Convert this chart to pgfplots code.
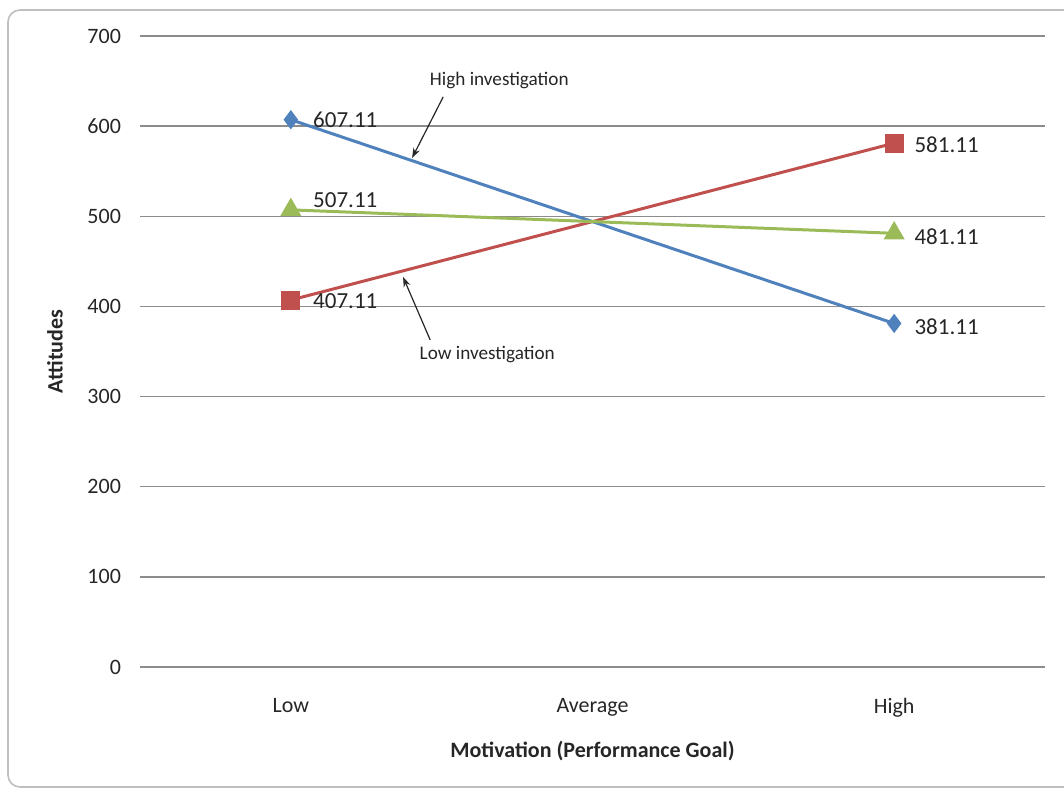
\documentclass[border=0pt]{standalone}
\usepackage{pgfplots}
\pgfplotsset{compat=1.18}
\usepackage{fontspec}
\setmainfont{Carlito}
\usetikzlibrary{arrows.meta}
\definecolor{xblue}{HTML}{4F81BD}
\definecolor{xred}{HTML}{C0504D}
\definecolor{xgreen}{HTML}{9BBB59}
\definecolor{xgrid}{HTML}{8C8C8C}
\definecolor{xtext}{HTML}{262626}
\begin{document}
\begin{tikzpicture}
\useasboundingbox (0,0) rectangle (532pt,396pt);
\draw[color=black!25, line width=0.8pt, rounded corners=6pt] (4pt,2.5pt) rectangle (545pt,391pt);
\begin{axis}[
  at={(70pt,62.5pt)}, anchor=south west,
  scale only axis, width=452.5pt, height=315.5pt,
  xmin=-0.5, xmax=2.5, ymin=0, ymax=700,
  axis line style={draw=none},
  xtick={0,1,2}, xticklabels={Low,Average,High},
  ytick={0,100,...,700},
  major tick length=0pt,
  ymajorgrids, grid style={xgrid, line width=0.7pt},
  tick label style={font=\fontsize{11}{13}\selectfont, text=xtext},
  xticklabel style={yshift=-12pt},
  yticklabel style={xshift=-6pt},
  /pgf/number format/assume math mode=true,
  xlabel={\textbf{Motivation (Performance Goal)}},
  ylabel={\textbf{Attitudes}},
  label style={font=\fontsize{11}{13}\selectfont, text=xtext},
  xlabel style={at={(axis description cs:0.5,-0.133)}, anchor=center},
  ylabel style={at={(axis description cs:-0.094,0.5)}, anchor=center, rotate=0},
  clip=false,
]
\addplot[xblue, line width=1.5pt, mark=diamond*, mark size=3.6pt, mark options={solid, fill=xblue}] coordinates {(0,607.11) (2,381.11)};
\addplot[xred, line width=1.5pt, mark=square*, mark size=4pt, mark options={solid, fill=xred}] coordinates {(0,407.11) (2,581.11)};
\addplot[xgreen, line width=1.5pt, mark=triangle*, mark size=4.6pt, mark options={solid, fill=xgreen}] coordinates {(0,507.11) (2,481.11)};
\begin{scope}[every node/.style={font=\fontsize{11.5}{13}\selectfont, text=xtext, anchor=west, inner sep=0pt}]
\node at (axis cs:0,607.11) [xshift=11pt] {607.11};
\node at (axis cs:0,507.11) [xshift=11pt, yshift=5pt] {507.11};
\node at (axis cs:0,407.11) [xshift=11pt, yshift=-0.5pt] {407.11};
\node at (axis cs:2,581.11) [xshift=10pt, yshift=-1pt] {581.11};
\node at (axis cs:2,481.11) [xshift=10pt, yshift=-1.5pt] {481.11};
\node at (axis cs:2,381.11) [xshift=10pt, yshift=-1.5pt] {381.11};
\end{scope}
\node[font=\fontsize{9.6}{11}\selectfont, text=xtext] at (axis cs:0.691,650.1) {High investigation};
\node[font=\fontsize{9.6}{11}\selectfont, text=xtext] at (axis cs:0.651,347.2) {Low investigation};
\draw[-{Stealth[length=5pt,width=3.5pt]}, line width=0.6pt, xtext] (axis cs:0.505,632.4) -- (axis cs:0.402,564.7);
\draw[-{Stealth[length=5pt,width=3.5pt]}, line width=0.6pt, xtext] (axis cs:0.462,362.8) -- (axis cs:0.372,432.7);
\end{axis}
\end{tikzpicture}
\end{document}
